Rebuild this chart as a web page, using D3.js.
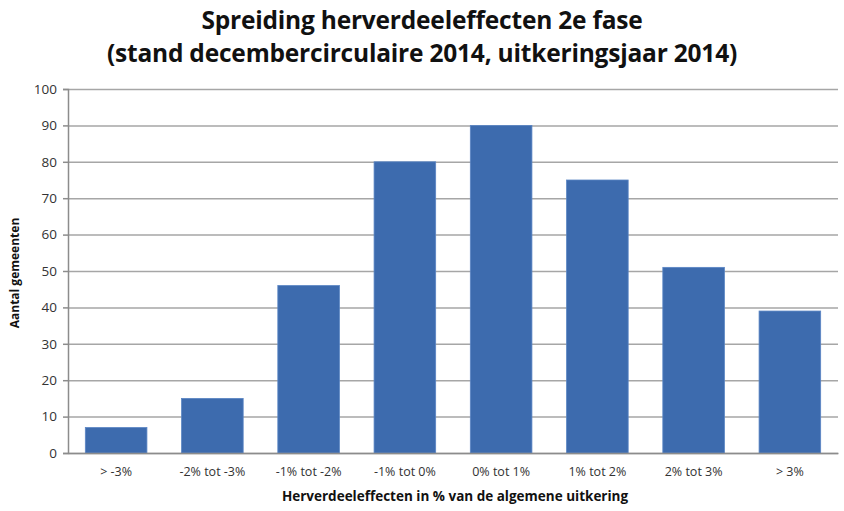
<!DOCTYPE html>
<html>
<head>
<meta charset="utf-8">
<script src="https://cdn.jsdelivr.net/npm/d3@7"></script>
<style>
  body { margin: 0; background: #fff; }
  text { font-family: "Open Sans", "Liberation Sans", sans-serif; }
</style>
</head>
<body>
<div class="bar-chart"></div>
<script>
// data
const categories = ['> -3%', '-2% tot -3%', '-1% tot -2%', '-1% tot 0%', '0% tot 1%', '1% tot 2%', '2% tot 3%', '> 3%'];
const counts = [7, 15, 46, 80, 90, 75, 51, 39];
const yTicks = [0, 10, 20, 30, 40, 50, 60, 70, 80, 90, 100];
const titleLines = ['Spreiding herverdeeleffecten 2e fase', '(stand decembercirculaire 2014, uitkeringsjaar 2014)'];

const W = 844, H = 511;
const margin = {top: 89, right: 6, bottom: 58, left: 68};
const width = W - margin.left - margin.right;
const height = H - margin.top - margin.bottom;

const svg = d3.select('.bar-chart').append('svg')
  .attr('width', W)
  .attr('height', H);

// title
svg.append('g').selectAll('text')
  .data(titleLines)
  .enter().append('text')
  .attr('x', W / 2)
  .attr('y', (d, i) => 29 + i * 33)
  .attr('text-anchor', 'middle')
  .style('font-weight', 'bold')
  .style('font-size', '24.5px')
  .style('letter-spacing', '-0.2px')
  .attr('fill', '#111')
  .text(d => d);

const g = svg.append('g')
  .attr('transform', 'translate(' + margin.left + ',' + margin.top + ')');

let x = d3.scaleBand()
  .domain(categories)
  .range([0, width])
  .paddingInner(0.36)
  .paddingOuter(0.18);

let y = d3.scaleLinear()
  .domain([0, 100])
  .range([height, 0]);

// gridlines
g.append('g')
  .call(d3.axisLeft(y).tickValues(yTicks).tickSize(-width).tickFormat(''))
  .call(a => a.select('.domain').remove())
  .call(a => a.selectAll('line').attr('stroke', '#a6a6a6').attr('stroke-width', 1.5));

// bars
g.selectAll('.bar')
  .data(counts)
  .enter().append('rect')
  .attr('class', 'bar')
  .attr('x', (d, i) => x(categories[i]))
  .attr('width', x.bandwidth())
  .attr('y', d => y(d))
  .attr('height', d => height - y(d))
  .attr('fill', '#3d6bae')
  .attr('stroke', '#5a85c4')
  .attr('stroke-width', 0.8);

// y axis
g.append('g')
  .call(d3.axisLeft(y).tickValues(yTicks).tickSize(5).tickPadding(6))
  .call(a => a.selectAll('line, path').attr('stroke', '#8c8c8c').attr('stroke-width', 1.5))
  .call(a => a.selectAll('text').style('font-size', '13.5px').attr('fill', '#333'));

// x axis
g.append('g')
  .attr('transform', 'translate(0,' + height + ')')
  .call(d3.axisBottom(x).tickSize(0).tickPadding(14))
  .call(a => a.select('.domain').attr('stroke', '#8c8c8c').attr('stroke-width', 1.5))
  .call(a => a.selectAll('text').style('font-size', '12.5px').attr('fill', '#333'));

// axis titles
svg.append('text')
  .attr('x', 455)
  .attr('y', 501)
  .attr('text-anchor', 'middle')
  .style('font-weight', 'bold')
  .style('font-size', '13.5px')
  .attr('fill', '#111')
  .text('Herverdeeleffecten in % van de algemene uitkering');

svg.append('text')
  .attr('transform', 'translate(19,' + (margin.top + height / 2 + 2) + ') rotate(-90)')
  .attr('text-anchor', 'middle')
  .style('font-weight', 'bold')
  .style('font-size', '12px')
  .attr('fill', '#111')
  .text('Aantal gemeenten');
</script>
</body>
</html>
